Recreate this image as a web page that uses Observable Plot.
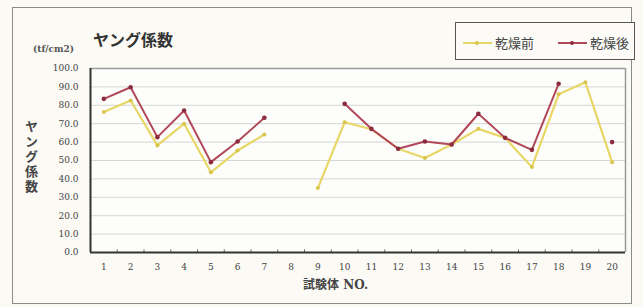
<!DOCTYPE html>
<html><head><meta charset="utf-8">
<script src="https://cdn.jsdelivr.net/npm/d3@7"></script>
<script src="https://cdn.jsdelivr.net/npm/@observablehq/plot@0.6"></script>
<style>
html,body{margin:0;padding:0;background:#fbfaf5;}
#wrap{position:relative;width:643px;height:307px;overflow:hidden;font-family:"DejaVu Serif","Noto Sans CJK JP",serif;color:#333;}
#frame{position:absolute;left:12px;top:7px;width:620px;height:297px;border:1px solid #8a8a8a;box-sizing:border-box;}
#title{position:absolute;left:93px;top:27px;font-size:16px;font-weight:bold;font-family:"Noto Sans CJK JP",serif;color:#333;}
#unit{position:absolute;left:33px;top:44px;font-size:9px;font-weight:bold;color:#555;}
#ylab{position:absolute;left:22px;top:120px;writing-mode:vertical-rl;text-orientation:upright;font-size:13px;letter-spacing:2px;font-family:"Noto Sans CJK JP",serif;font-weight:bold;color:#444;}
#xlab{position:absolute;left:303px;top:275px;font-size:12px;font-weight:bold;color:#444;font-family:"DejaVu Serif","Noto Sans CJK JP",serif;}
#legend{position:absolute;left:455px;top:22px;width:180px;height:38px;border:1.5px solid #555;box-sizing:border-box;background:#fcfbf8;font-family:"Noto Sans CJK JP",serif;font-size:13px;color:#444;}
.li{position:absolute;top:10px;display:flex;align-items:center;}
.sw{position:relative;width:29px;height:12px;margin-right:3px;}
.sw .ln{position:absolute;left:0;right:0;top:5px;height:2px;}
.sw .dt{position:absolute;left:12px;top:4px;width:4px;height:4px;border-radius:2px;}
#plot{position:absolute;left:0;top:0;}
</style></head>
<body><div id="wrap">
<div id="frame"></div>
<div id="plot"></div>
<div id="title">ヤング係数</div>
<div id="unit">(tf/cm2)</div>
<div id="ylab">ヤング係数</div>
<div id="xlab">試験体 NO.</div>
<div id="legend"></div>
</div>
<script>
const specimens = [1,2,3,4,5,6,7,8,9,10,11,12,13,14,15,16,17,18,19,20];
const before = [76.3, 82.6, 58.2, 70.0, 43.6, 55.4, 64.1, null, 35.0, 70.8, 67.0, 56.4, 51.4, 58.7, 67.2, 62.3, 46.4, 86.0, 92.5, 49.0];
const after  = [83.5, 89.8, 62.7, 77.2, 49.1, 60.3, 73.2, null, null, 80.8, 67.2, 56.4, 60.3, 58.7, 75.4, 62.3, 55.8, 91.7, null, 60.0];
const seriesNames = ["乾燥前", "乾燥後"];
const seriesColors = ["#e8d766", "#b0485a"];
const dotColors = ["#d9c44e", "#8c2c3e"];
const yTicks = [0,10,20,30,40,50,60,70,80,90,100];

const rows = specimens.map((s,i)=>({s, before: before[i], after: after[i]}));
const bounds = specimens.slice(0,-1).map(s=>s+0.5);

const chart = Plot.plot({
  width: 643, height: 307,
  marginLeft: 90, marginRight: 18, marginTop: 68, marginBottom: 55,
  style: {background: "transparent", fontFamily: "DejaVu Serif, serif", fontSize: "9px", color: "#444"},
  x: {domain: [0.5, 20.5], ticks: specimens, tickSize: 0, tickPadding: 11, tickFormat: d=>String(d), label: null},
  y: {domain: [0, 100], ticks: yTicks, tickSize: 0, tickPadding: 12, tickFormat: d=>d.toFixed(1), label: null},
  marks: [
    Plot.frame({fill: "#fdfdfb", stroke: "none"}),
    Plot.ruleY(yTicks.slice(1,-1), {stroke: "#d6d6d6", strokeWidth: 1}),
    Plot.ruleY([100], {stroke: "#9a9a9a", strokeWidth: 1.5}),
    Plot.ruleX([20.5], {stroke: "#9a9a9a", strokeWidth: 1.5}),
    Plot.ruleX(bounds, {y1: 0, y2: 1.4, stroke: "#666", strokeWidth: 1}),
    Plot.line(rows, {x: "s", y: "before", stroke: seriesColors[0], strokeWidth: 2.2}),
    Plot.dot(rows, {x: "s", y: "before", r: 2, fill: dotColors[0], stroke: "none"}),
    Plot.line(rows, {x: "s", y: "after", stroke: seriesColors[1], strokeWidth: 2}),
    Plot.dot(rows, {x: "s", y: "after", r: 2.3, fill: dotColors[1], stroke: "none"}),
    Plot.ruleX([0.5], {stroke: "#333", strokeWidth: 2}),
    Plot.ruleY([0], {stroke: "#333", strokeWidth: 2})
  ]
});
document.getElementById("plot").appendChild(chart);

const leg = document.getElementById("legend");
const lefts = [7, 102];
seriesNames.forEach((n,i)=>{
  const d = document.createElement("div");
  d.className = "li"; d.style.left = lefts[i] + "px";
  d.innerHTML = `<span class="sw"><span class="ln" style="background:${seriesColors[i]}"></span><span class="dt" style="background:${dotColors[i]}"></span></span><span>${n}</span>`;
  leg.appendChild(d);
});
</script>
</body></html>
